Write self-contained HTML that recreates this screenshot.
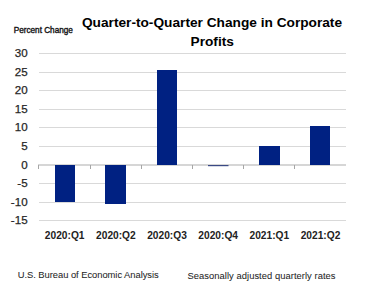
<!DOCTYPE html>
<html><head><meta charset="utf-8"><style>
html,body{margin:0;padding:0;background:#fff;width:388px;height:295px;overflow:hidden}
svg{display:block;font-family:"Liberation Sans",sans-serif}
</style></head><body>
<svg width="388" height="295" viewBox="0 0 388 295">
<rect width="388" height="295" fill="#fff"/>
<g><rect x="39" y="53" width="307" height="1" fill="#d9d9d9"/><rect x="39" y="72" width="307" height="1" fill="#d9d9d9"/><rect x="39" y="90" width="307" height="1" fill="#d9d9d9"/><rect x="39" y="109" width="307" height="1" fill="#d9d9d9"/><rect x="39" y="127" width="307" height="1" fill="#d9d9d9"/><rect x="39" y="146" width="307" height="1" fill="#d9d9d9"/><rect x="39" y="183" width="307" height="1" fill="#d9d9d9"/><rect x="39" y="202" width="307" height="1" fill="#d9d9d9"/><rect x="39" y="220" width="307" height="1" fill="#d9d9d9"/></g>
<rect x="38" y="164.4" width="308" height="1.2" fill="#bcbcbc"/>
<g><rect x="38" y="165" width="1" height="4" fill="#a6a6a6"/><rect x="90" y="165" width="1" height="4" fill="#a6a6a6"/><rect x="141" y="165" width="1" height="4" fill="#a6a6a6"/><rect x="192" y="165" width="1" height="4" fill="#a6a6a6"/><rect x="243" y="165" width="1" height="4" fill="#a6a6a6"/><rect x="294" y="165" width="1" height="4" fill="#a6a6a6"/></g>
<g><rect x="55" y="165" width="20" height="37" fill="#002182"/><rect x="105" y="165" width="21" height="39" fill="#002182"/><rect x="157" y="70" width="20" height="95" fill="#002182"/><rect x="259" y="146" width="21" height="19" fill="#002182"/><rect x="310" y="126" width="20" height="39" fill="#002182"/><rect x="208" y="165" width="20.5" height="1.2" fill="#3b4a85"/></g>
<g font-size="11.6" fill="#262626" stroke="#262626" stroke-width="0.25"><text x="27.6" y="57.0" text-anchor="end">30</text><text x="27.6" y="75.6" text-anchor="end">25</text><text x="27.6" y="94.2" text-anchor="end">20</text><text x="27.6" y="112.8" text-anchor="end">15</text><text x="27.6" y="131.4" text-anchor="end">10</text><text x="27.6" y="150.0" text-anchor="end">5</text><text x="27.6" y="168.6" text-anchor="end">0</text><text x="27.6" y="187.2" text-anchor="end">-5</text><text x="27.6" y="205.8" text-anchor="end">-10</text><text x="27.6" y="224.4" text-anchor="end">-15</text></g>
<g font-size="10.2" font-weight="bold" fill="#222"><text x="64.7" y="239" text-anchor="middle">2020:Q1</text><text x="115.9" y="239" text-anchor="middle">2020:Q2</text><text x="167.0" y="239" text-anchor="middle">2020:Q3</text><text x="218.2" y="239" text-anchor="middle">2020:Q4</text><text x="269.3" y="239" text-anchor="middle">2021:Q1</text><text x="320.5" y="239" text-anchor="middle">2021:Q2</text></g>
<g font-size="13.7" font-weight="bold" fill="#000">
<text x="212" y="27" text-anchor="middle">Quarter-to-Quarter Change in Corporate</text>
<text x="212.2" y="45.6" text-anchor="middle">Profits</text>
</g>
<text x="13.7" y="33" font-size="8.2" fill="#111" stroke="#111" stroke-width="0.35">Percent Change</text>
<g font-size="9.4" fill="#262626" stroke="#262626" stroke-width="0.05">
<text x="17.7" y="277.7" textLength="141" lengthAdjust="spacing">U.S. Bureau of Economic Analysis</text>
<text x="187.5" y="278.8" textLength="148" lengthAdjust="spacing">Seasonally adjusted quarterly rates</text>
</g>
</svg>
</body></html>
